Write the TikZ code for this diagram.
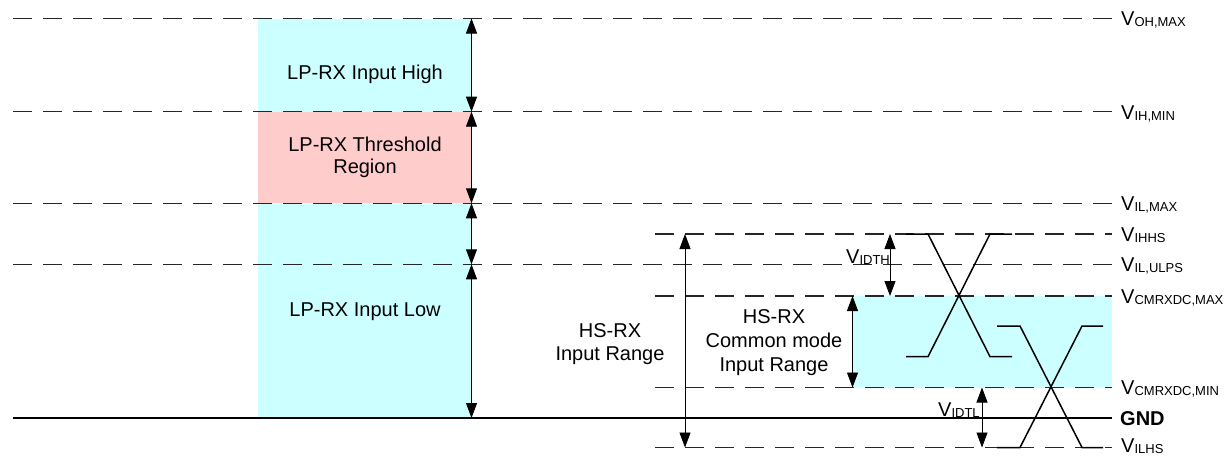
\documentclass[tikz,border=0pt]{standalone}
\usepackage{fontspec}
\setmainfont{Liberation Sans}
\usetikzlibrary{arrows.meta}
\definecolor{lpcyan}{RGB}{204,255,255}
\definecolor{lppink}{RGB}{255,204,204}
\newcommand{\Vs}[1]{V\raisebox{-1pt}{\fontsize{13}{13}\selectfont #1}}
\begin{document}
\begin{tikzpicture}[x=1pt,y=-1pt,
  lvl/.style={draw=black!85, line width=1.1pt, dash pattern=on 19pt off 11pt},
  gnd/.style={draw=black, line width=1.8pt},
  dim/.style={line width=0.9pt, {Triangle[length=15pt,width=11pt]}-{Triangle[length=15pt,width=11pt]}},
  wave/.style={draw=black, line width=1.5pt, line join=miter},
  txt/.style={font=\fontsize{20}{23}\selectfont, align=center, inner sep=0pt},
  lbl/.style={font=\fontsize{20}{24}\selectfont, inner sep=0pt, anchor=base west}]
\useasboundingbox (0,0) rectangle (1228,455);

% fills
\fill[lpcyan] (258,18.5) rectangle (471.5,418);
\fill[lppink] (258,111.7) rectangle (471.5,203.3);
\fill[lpcyan] (852.5,296) rectangle (1112,387.5);

% level line ends
\coordinate (ohA) at (13,18.5);   \coordinate (ohB) at (1112,18.5);
\coordinate (ihA) at (13,111.7);  \coordinate (ihB) at (1112,111.7);
\coordinate (ilA) at (13,203.3);  \coordinate (ilB) at (1112,203.3);
\coordinate (hhA) at (655,234);   \coordinate (hhB) at (1112,234);
\coordinate (ulA) at (13,264.3);  \coordinate (ulB) at (1112,264.3);
\coordinate (cmxA) at (655,296);  \coordinate (cmxB) at (1112,296);
\coordinate (cmnA) at (655,387.5);\coordinate (cmnB) at (1112,387.5);
\coordinate (gA) at (13,418);     \coordinate (gB) at (1112,418);
\coordinate (lhA) at (655,447.5); \coordinate (lhB) at (1112,447.5);

\draw[lvl] (ohA) -- (ohB);
\draw[lvl] (ihA) -- (ihB);
\draw[lvl] (ilA) -- (ilB);
\draw[lvl] (hhA) -- (hhB);
\draw[lvl] (ulA) -- (ulB);
\draw[lvl] (cmxA) -- (cmxB);
\draw[lvl] (cmnA) -- (cmnB);
\draw[lvl] (lhA) -- (lhB);
\draw[gnd] (gA) -- (gB);

% LP arrows
\coordinate (A1) at (471.5,18.5);
\coordinate (A2) at (471.5,111.7);
\coordinate (A3) at (471.5,203.3);
\coordinate (A4) at (471.5,264.3);
\coordinate (A5) at (471.5,418);
\draw[dim] (A1) -- (A2);
\draw[dim] (A2) -- (A3);
\draw[dim] (A3) -- (A4);
\draw[dim] (A4) -- (A5);

% HS arrows
\coordinate (H1) at (685,234);   \coordinate (H2) at (685,447.5);
\coordinate (C1) at (852.5,296); \coordinate (C2) at (852.5,387.5);
\coordinate (D1) at (890,234);   \coordinate (D2) at (890,296);
\coordinate (E1) at (982,387.5); \coordinate (E2) at (982,447.5);
\draw[dim] (H1) -- (H2);
\draw[dim] (C1) -- (C2);
\draw[dim] (D1) -- (D2);
\draw[dim] (E1) -- (E2);

% waveforms
\draw[wave] (906,234) -- (928,234) -- (990,356.7) -- (1012,356.7);
\draw[wave] (906,356.7) -- (928,356.7) -- (990,234) -- (1012,234);
\draw[wave] (997,326) -- (1020,326) -- (1082,447.5) -- (1103,447.5);
\draw[wave] (997,447.5) -- (1020,447.5) -- (1082,326) -- (1103,326);

% texts
\node[txt] (t1) at (365,74.1) {LP-RX Input High};
\node[txt, font=\fontsize{20}{22}\selectfont] (t2) at (365,157.5) {LP-RX Threshold\\Region};
\node[txt] (t3) at (365,312) {LP-RX Input Low};
\node[txt] (t4) at (610,343.6) {HS-RX\\Input Range};
\node[txt, font=\fontsize{20}{24}\selectfont] (t5) at (774,342.1) {HS-RX\\Common mode\\Input Range};

\node[lbl] (vidth) at (846,263) {\Vs{IDTH}};
\node[lbl] (vidtl) at (938,416) {\Vs{IDTL}};

% right labels
\node[lbl] (r1) at (1121,25.8) {\Vs{OH,MAX}};
\node[lbl] (r2) at (1121,119) {\Vs{IH,MIN}};
\node[lbl] (r3) at (1121,210.6) {\Vs{IL,MAX}};
\node[lbl] (r4) at (1121,241.3) {\Vs{IHHS}};
\node[lbl] (r5) at (1121,271.6) {\Vs{IL,ULPS}};
\node[lbl] (r6) at (1121,303.3) {\Vs{CMRXDC,MAX}};
\node[lbl] (r7) at (1121,394.8) {\Vs{CMRXDC,MIN}};
\node[lbl, font=\fontsize{20}{24}\selectfont\bfseries] (r8) at (1120,425) {GND};
\node[lbl] (r9) at (1121,452.5) {\Vs{ILHS}};
\end{tikzpicture}
\end{document}
